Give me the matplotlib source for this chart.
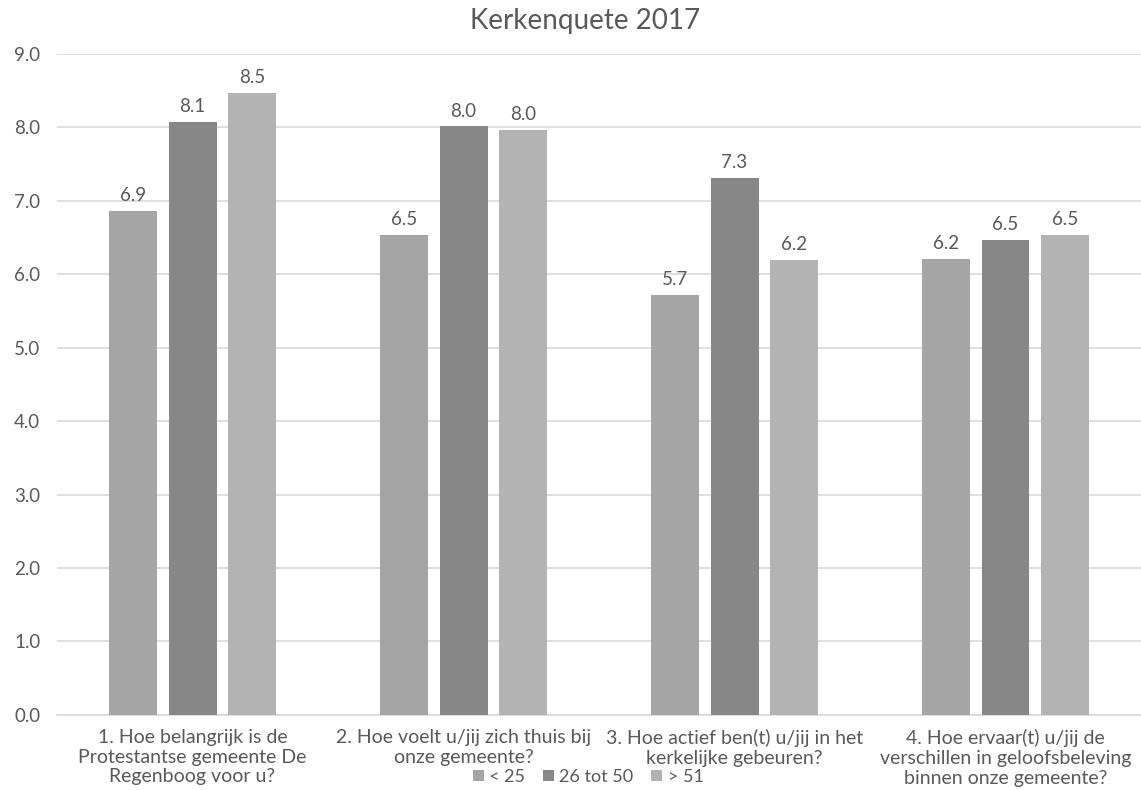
import matplotlib
matplotlib.use('Agg')
import matplotlib.pyplot as plt
import numpy as np

# data
categories = ['1. Hoe belangrijk is de\nProtestantse gemeente De\nRegenboog voor u?',
              '2. Hoe voelt u/jij zich thuis bij\nonze gemeente?',
              '3. Hoe actief ben(t) u/jij in het\nkerkelijke gebeuren?',
              '4. Hoe ervaar(t) u/jij de\nverschillen in geloofsbeleving\nbinnen onze gemeente?']
series_names = ['< 25', '26 tot 50', '> 51']
under_25 = [6.86, 6.53, 5.72, 6.21]
age_26_50 = [8.07, 8.01, 7.31, 6.46]
over_51 = [8.46, 7.96, 6.19, 6.53]
yticks = [0, 1, 2, 3, 4, 5, 6, 7, 8, 9]

colors = ['#a5a5a5', '#878787', '#b3b3b3']
txt = '#595959'

plt.rcParams['font.family'] = ['Lato', 'DejaVu Sans']

fig = plt.figure(figsize=(11.41, 7.9), dpi=100)
ax = fig.add_axes([0.05, 0.095, 0.95, 0.837])

x = np.arange(len(categories))
w = 0.177
step = 0.221
for i, (vals, name) in enumerate(zip([under_25, age_26_50, over_51], series_names)):
	bars = ax.bar(x + (i - 1) * step, vals, width=w, color=colors[i], label=name, zorder=3)
	for b, v in zip(bars, vals):
		ax.annotate('%.1f' % v, (b.get_x() + b.get_width() / 2, v), xytext=(0, 5),
			textcoords='offset points', ha='center', va='bottom', fontsize=13.5, color=txt)

ax.set_xlim(-0.5, 3.5)
ax.set_ylim(0, 9)
ax.set_yticks(yticks)
ax.set_yticklabels(['%.1f' % t for t in yticks], fontsize=13.5)
ax.set_xticks(x)
ax.set_xticklabels(categories, linespacing=1.2, fontsize=14)
ax.tick_params(axis='both', length=0, colors=txt)
ax.tick_params(axis='y', pad=12)
ax.tick_params(axis='x', pad=10)
ax.grid(axis='y', color='#d9d9d9', linewidth=1.2, zorder=0)
for s in ['left', 'right', 'top']:
	ax.spines[s].set_visible(False)
ax.spines['bottom'].set_color('#d9d9d9')
ax.spines['bottom'].set_linewidth(1.2)

fig.suptitle('Kerkenquete 2017', x=0.513, y=0.99, fontsize=20, color=txt)
ax.legend(loc='center', bbox_to_anchor=(0.49, -0.094), ncol=3, frameon=False,
	fontsize=13, labelcolor=txt, handlelength=0.6, handleheight=0.6, handletextpad=0.3,
	columnspacing=1.0, borderaxespad=0, borderpad=0)

plt.savefig('out.png', dpi=100)
